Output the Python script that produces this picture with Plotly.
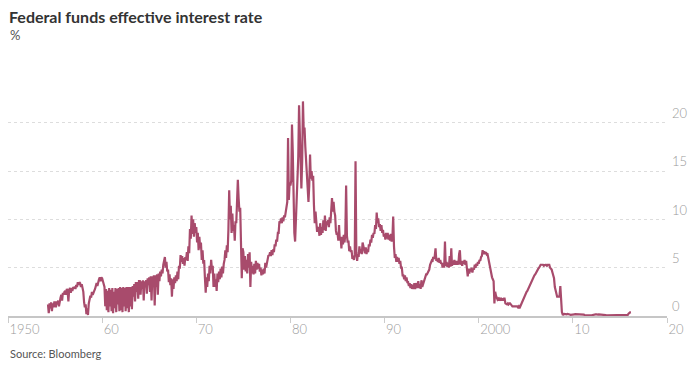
import pandas as pd
import plotly.graph_objects as go

# Monthly readings (%), first value = April 1954
rates_1950s = [
    1.2, 0.3, 1.3, 0.8, 1.4, 0.5, 1.3, 0.9, 1.4,              # 1954 Apr-Dec
    1.4, 0.9, 1.5, 1.2, 1.6, 1.0, 1.8, 1.9, 2.2, 1.6, 2.4, 2.2,
    2.5, 2.6, 2.2, 2.8, 2.6, 1.5, 2.7, 2.9, 2.4, 2.9, 2.6, 2.9,
    2.9, 3.0, 2.8, 3.2, 3.0, 3.5, 3.2, 3.5, 3.4, 3.0, 3.3, 2.8,
    2.5, 1.4, 0.9, 1.2, 0.2, 0.8, 0.1, 1.3, 1.6, 2.1, 1.9, 2.5,
    2.2, 2.6, 2.6, 2.8, 3.0, 3.4, 3.1, 3.6, 3.8, 4.0, 3.6, 4.0,
]
rates_1960s = [
    3.9, 3.6, 3.4, 3.0, 1.0, 2.8, 0.6, 2.6, 0.4, 2.9, 1.0, 2.7,
    0.5, 2.9, 0.3, 2.5, 0.8, 2.9, 0.4, 2.8, 1.2, 2.9, 0.5, 3.0,
    0.6, 2.9, 0.4, 3.0, 1.0, 2.9, 0.5, 3.0, 0.8, 3.0, 0.4, 3.0,
    1.0, 3.0, 0.7, 3.1, 2.0, 3.3, 1.5, 3.5, 2.5, 3.5, 1.8, 3.6,
    3.6, 2.2, 3.6, 2.8, 3.7, 1.6, 3.6, 3.0, 3.7, 2.3, 3.9, 3.2,
    4.0, 2.5, 4.1, 1.6, 4.1, 3.1, 4.2, 1.1, 4.2, 3.0, 4.3, 2.2,
    4.4, 3.6, 4.6, 4.1, 4.8, 4.4, 5.3, 5.8, 6.1, 5.0, 5.6, 4.6,
    4.8, 3.5, 4.3, 3.2, 3.9, 2.0, 3.8, 2.8, 4.0, 3.4, 4.2, 3.6,
    4.6, 3.8, 5.2, 4.9, 6.3, 5.6, 6.2, 5.4, 6.0, 5.2, 6.1, 5.8,
    6.6, 5.7, 7.2, 6.5, 9.0, 8.0, 10.4, 8.5, 10.0, 8.2, 9.6, 8.6,
]
rates_1970s = [
    9.2, 7.6, 8.6, 6.8, 8.2, 7.0, 7.6, 5.8, 6.8, 5.4, 5.8, 4.0,
    2.4, 4.0, 3.0, 4.4, 3.6, 5.2, 4.4, 5.8, 4.8, 5.2, 3.0, 4.4,
    3.0, 3.8, 2.6, 4.4, 3.5, 4.6, 3.8, 4.9, 4.0, 5.1, 4.4, 5.4,
    5.8, 6.8, 6.0, 7.3, 6.6, 9.0, 13.0, 10.0, 11.4, 8.6, 10.6, 8.8,
    9.4, 7.8, 9.8, 9.6, 11.8, 14.1, 12.2, 10.8, 11.2, 8.0, 3.9, 7.0,
    6.6, 4.8, 6.2, 4.6, 5.8, 4.4, 6.4, 5.0, 6.6, 3.0, 5.6, 4.4,
    5.2, 4.3, 5.4, 4.4, 5.7, 4.8, 5.5, 4.9, 5.4, 4.6, 5.0, 4.2,
    4.8, 4.3, 4.9, 4.4, 5.5, 5.0, 5.6, 5.7, 6.3, 6.2, 6.6, 6.2,
    6.8, 6.3, 6.9, 6.6, 7.4, 7.2, 7.9, 7.7, 8.6, 8.6, 9.8, 9.6,
    10.1, 9.6, 10.2, 9.8, 10.4, 10.2, 10.6, 11.0, 11.8, 18.4, 12.0, 13.8,
]
rates_1980s = [
    13.5, 14.0, 19.8, 17.0, 10.5, 8.6, 7.7, 9.6, 11.0, 13.5, 16.5, 21.8,
    19.0, 15.0, 13.2, 16.0, 22.2, 19.0, 19.5, 17.5, 15.8, 14.3, 12.5, 11.8,
    13.5, 16.7, 14.2, 15.0, 14.0, 14.5, 11.5, 9.6, 10.8, 9.0, 8.7, 9.2,
    9.0, 8.3, 9.6, 8.4, 9.2, 8.6, 9.9, 8.9, 10.4, 8.8, 9.8, 9.4,
    9.9, 9.2, 10.2, 9.6, 10.6, 12.2, 10.8, 11.8, 10.8, 10.4, 8.8, 8.4,
    8.6, 7.8, 9.4, 7.8, 8.2, 7.0, 8.2, 7.4, 8.4, 7.6, 8.6, 13.5,
    8.3, 7.6, 7.8, 6.7, 7.2, 6.6, 6.8, 5.9, 6.2, 5.8, 6.4, 16.0,
    6.6, 5.7, 6.4, 6.1, 7.2, 6.5, 6.9, 6.4, 7.6, 7.2, 7.0, 6.5,
    7.1, 6.4, 6.9, 6.6, 7.4, 7.2, 7.9, 7.6, 8.4, 8.1, 8.6, 8.5,
    9.4, 9.0, 10.7, 9.6, 10.1, 9.2, 9.5, 8.8, 9.4, 8.6, 8.9, 8.2,
]
rates_1990s = [
    8.5, 7.9, 8.6, 8.0, 8.6, 7.9, 8.4, 7.8, 8.5, 7.7, 8.1, 10.3,
    7.2, 6.0, 6.4, 5.6, 6.1, 5.6, 6.0, 5.4, 5.7, 5.0, 5.0, 4.2,
    4.2, 3.8, 4.2, 3.6, 4.0, 3.5, 3.5, 3.1, 3.4, 2.9, 3.3, 2.8,
    3.2, 2.8, 3.4, 2.8, 3.2, 3.4, 2.9, 3.6, 2.9, 3.3, 2.8, 3.7,
    3.0, 3.3, 3.4, 3.6, 4.0, 4.3, 4.3, 4.5, 4.7, 4.8, 5.3, 5.6,
    5.7, 5.6, 6.1, 5.9, 6.2, 7.0, 5.7, 5.9, 5.6, 6.0, 5.5, 5.8,
    5.4, 5.5, 5.0, 5.5, 5.0, 7.7, 5.2, 5.6, 5.1, 5.5, 5.0, 6.2,
    5.1, 7.0, 5.2, 5.7, 5.3, 5.8, 5.3, 5.7, 5.3, 5.7, 5.3, 6.4,
    6.8, 5.3, 5.7, 5.2, 5.7, 5.4, 5.8, 5.3, 5.7, 4.9, 4.1, 4.9,
    4.4, 4.9, 4.6, 5.0, 4.5, 4.9, 4.8, 5.3, 5.0, 5.4, 5.2, 5.6,
]
rates_2000s = [
    5.4, 5.8, 5.7, 6.1, 6.2, 6.8, 6.4, 6.7, 6.4, 6.6, 6.4, 6.5,
    6.0, 5.5, 5.3, 4.8, 4.2, 4.0, 3.8, 3.6, 1.3, 2.5, 2.1, 1.8,
    1.7, 1.8, 1.7, 1.8, 1.7, 1.8, 1.7, 1.7, 1.8, 1.8, 1.3, 1.2,
    1.2, 1.3, 1.2, 1.3, 1.3, 1.2, 1.0, 1.0, 1.0, 1.0, 1.0, 1.0,
    1.0, 1.0, 0.9, 1.0, 0.8, 1.0, 1.3, 1.4, 1.6, 1.8, 1.9, 2.2,
    2.3, 2.5, 2.6, 2.8, 3.0, 3.0, 3.3, 3.5, 3.6, 3.8, 4.0, 4.2,
    4.3, 4.5, 4.6, 4.8, 4.9, 5.0, 5.2, 5.3, 5.3, 5.3, 5.3, 5.2,
    5.3, 5.3, 5.3, 5.2, 5.3, 5.3, 5.3, 5.0, 4.9, 4.8, 4.5, 4.2,
    3.9, 3.0, 2.6, 2.3, 2.0, 2.0, 2.0, 2.0, 3.1, 1.0, 0.4, 0.16,
    0.15, 0.22, 0.18, 0.15, 0.18, 0.21, 0.16, 0.16, 0.15, 0.12, 0.12, 0.12,
]
rates_2010s = [
    0.11, 0.13, 0.16, 0.20, 0.20, 0.18, 0.18, 0.19, 0.19, 0.19, 0.19, 0.18,
    0.17, 0.16, 0.14, 0.10, 0.09, 0.09, 0.07, 0.10, 0.08, 0.07, 0.08, 0.07,
    0.08, 0.10, 0.13, 0.14, 0.16, 0.16, 0.16, 0.13, 0.14, 0.16, 0.16, 0.16,
    0.14, 0.15, 0.14, 0.15, 0.11, 0.09, 0.09, 0.08, 0.08, 0.09, 0.08, 0.09,
    0.07, 0.07, 0.08, 0.09, 0.09, 0.10, 0.09, 0.09, 0.09, 0.09, 0.09, 0.12,
    0.11, 0.11, 0.11, 0.12, 0.12, 0.13, 0.13, 0.14, 0.14, 0.12, 0.12, 0.24,
    0.34, 0.38, 0.40,
]
first_month = "1954-04-01"

x_tick_dates = ["1950-01-01", "1960-01-01", "1970-01-01", "1980-01-01",
                "1990-01-01", "2000-01-01", "2010-01-01", "2020-01-01"]
x_tick_labels = ["1950", "60", "70", "80", "90", "2000", "10", "20"]
y_tick_vals = [0, 5, 10, 15, 20]

rates = (rates_1950s + rates_1960s + rates_1970s + rates_1980s
         + rates_1990s + rates_2000s + rates_2010s)
dates = pd.date_range(first_month, periods=len(rates), freq="MS")

fig = go.Figure()
fig.add_trace(go.Scatter(
    x=dates, y=rates, mode="lines",
    line=dict(color="#a84b6c", width=2.2),
    hoverinfo="skip", showlegend=False,
))

fig.update_layout(
    template="none",
    width=690, height=358,
    margin=dict(l=0, r=31, t=76, b=50, pad=0),
    paper_bgcolor="white", plot_bgcolor="white",
    font=dict(family="Lato", color="#999999"),
    xaxis=dict(
        type="date", automargin=False,
        range=["1950-01-01", "2020-01-01"],
        tickvals=x_tick_dates, ticktext=x_tick_labels,
        ticks="outside", ticklen=5, tickcolor="#cccccc", tickwidth=1,
        ticklabelposition="outside right",
        tickfont=dict(size=13, color="#9a9a9a", family="Lato", weight=300),
        showgrid=False, showline=True, linecolor="#c6c6c6", linewidth=2,
        zeroline=False,
    ),
    yaxis=dict(
        side="right", automargin=False,
        range=[0, 24],
        tickvals=y_tick_vals,
        ticks="", ticklabelposition="outside top", ticklabelstandoff=4,
        tickfont=dict(size=13, color="#9a9a9a", family="Lato", weight=300),
        showgrid=True, gridcolor="#dddddd", griddash="dot", gridwidth=1,
        zeroline=False, showline=False,
    ),
    annotations=[
        dict(text="<b>Federal funds effective interest rate</b>",
             xref="paper", yref="paper", x=0, y=(308 - 8) / 232, xshift=-1,
             xanchor="left", yanchor="middle", showarrow=False,
             font=dict(family="Lato", size=16, color="#333333")),
        dict(text="%", xref="paper", yref="paper", x=0, y=(308 - 27) / 232,
             xanchor="left", yanchor="middle", showarrow=False,
             font=dict(family="Lato", size=13, color="#555555")),
        dict(text="Source: Bloomberg", xref="paper", yref="paper",
             x=0, y=(308 - 345) / 232, xanchor="left", yanchor="middle",
             showarrow=False,
             font=dict(family="Lato", size=11, color="#555555")),
    ],
)

fig.write_html("out.html")
